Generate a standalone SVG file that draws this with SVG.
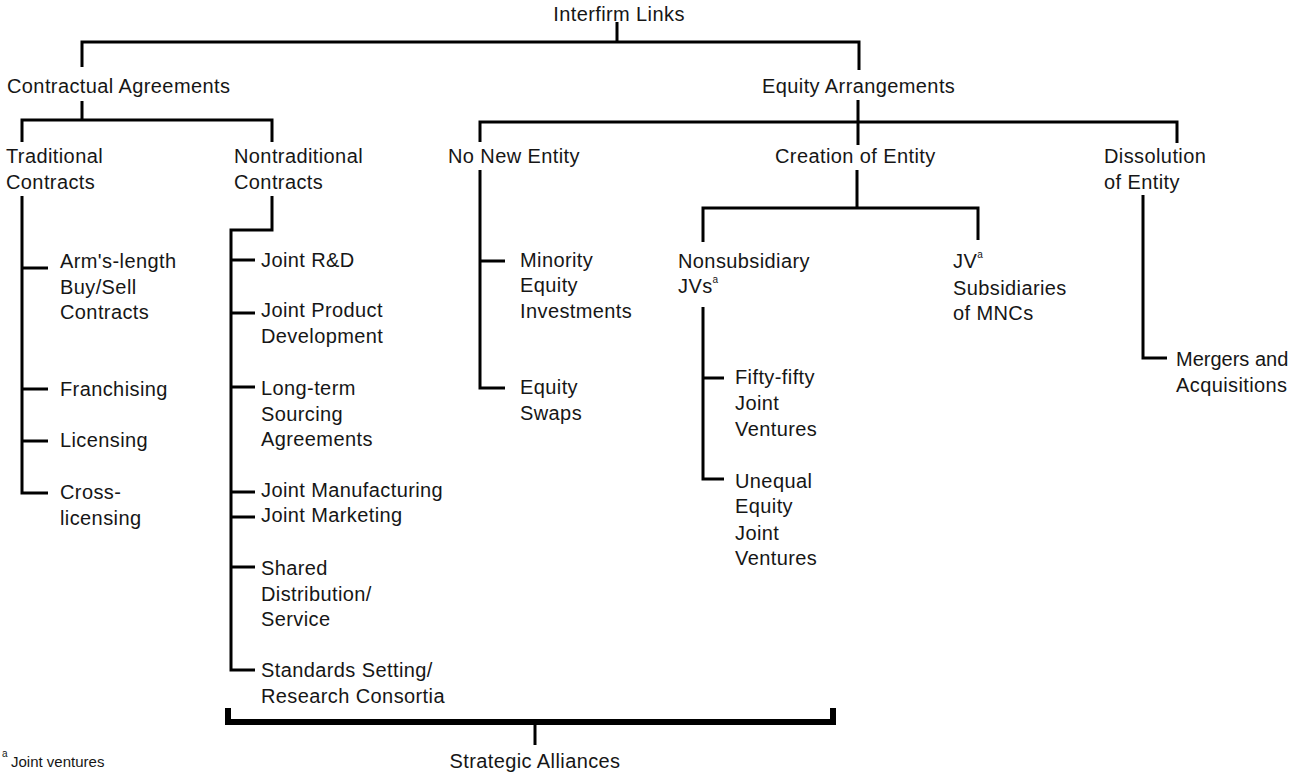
<svg xmlns="http://www.w3.org/2000/svg" width="1291" height="772" viewBox="0 0 1291 772">
<style>
text{font-family:"Liberation Sans",Arial,sans-serif;font-size:20px;fill:#161616;letter-spacing:0.4px}
.sup{font-size:10px;letter-spacing:0}
.fn{font-size:15px;letter-spacing:0}
.tight{letter-spacing:0}
.c{stroke:#000;stroke-width:3;fill:none;stroke-linejoin:miter;stroke-linecap:butt}
.br{stroke:#000;stroke-width:6;fill:none}
</style>
<rect width="1291" height="772" fill="#fff"/>
<g id="connectors">
<path class="c" d="M617 22V42M82 67V42H859V70"/>
<path class="c" d="M82 101V120M22 142V120H272V142"/>
<path class="c" d="M22 196V493H48M22 268H48M22 389H48M22 441H48"/>
<path class="c" d="M272 196V230H231V670H255M231 260H255M231 313H255M231 387H255M231 492H255M231 517H255M231 567H255"/>
<path class="c" d="M858 100V145M480 142V122H1177V143"/>
<path class="c" d="M480 170V388H505M480 261H505"/>
<path class="c" d="M857 170V208M703 242V208H978V240"/>
<path class="c" d="M703 307V479H724M703 378H724"/>
<path class="c" d="M1143 195V358H1167"/>
<path class="br" d="M228 708V722H833V708"/>
<path class="c" d="M535 722V745"/>
</g>
<g id="interfirm"><text x="619" y="21" text-anchor="middle">Interfirm Links</text></g>
<g id="contractual"><text x="7" y="93">Contractual Agreements</text></g>
<g id="equity"><text x="762" y="93">Equity Arrangements</text></g>
<g id="traditional"><text x="6" y="163">Traditional</text><text x="6" y="189">Contracts</text></g>
<g id="nontraditional"><text x="234" y="163">Nontraditional</text><text x="234" y="189">Contracts</text></g>
<g id="nonew"><text x="448" y="163">No New Entity</text></g>
<g id="creation"><text x="775" y="163">Creation of Entity</text></g>
<g id="dissolution"><text x="1104" y="163">Dissolution</text><text x="1104" y="189">of Entity</text></g>
<g id="armslength"><text x="60" y="268">Arm's-length</text><text x="60" y="294">Buy/Sell</text><text x="60" y="319">Contracts</text></g>
<g id="franchising"><text x="60" y="396">Franchising</text></g>
<g id="licensing"><text x="60" y="447">Licensing</text></g>
<g id="crosslicensing"><text x="60" y="499">Cross-</text><text x="60" y="525">licensing</text></g>
<g id="jointrd"><text x="261" y="267">Joint R&amp;D</text></g>
<g id="jointproduct"><text x="261" y="317">Joint Product</text><text x="261" y="343">Development</text></g>
<g id="longterm"><text x="261" y="395">Long-term</text><text x="261" y="421">Sourcing</text><text x="261" y="446">Agreements</text></g>
<g id="jointmanufacturing"><text x="261" y="497">Joint Manufacturing</text></g>
<g id="jointmarketing"><text x="261" y="522">Joint Marketing</text></g>
<g id="shared"><text x="261" y="575">Shared</text><text x="261" y="601">Distribution/</text><text x="261" y="626">Service</text></g>
<g id="standards"><text x="261" y="677">Standards Setting/</text><text x="261" y="703">Research Consortia</text></g>
<g id="minority"><text x="520" y="267">Minority</text><text x="520" y="292">Equity</text><text x="520" y="318">Investments</text></g>
<g id="swaps"><text x="520" y="394">Equity</text><text x="520" y="420">Swaps</text></g>
<g id="nonsubsidiary"><text x="678" y="268">Nonsubsidiary</text><text x="678" y="293">JVs<tspan class="sup" dy="-10">a</tspan></text></g>
<g id="jvsubsidiaries"><text x="953" y="268">JV<tspan class="sup" dy="-10">a</tspan></text><text x="953" y="295">Subsidiaries</text><text x="953" y="320">of MNCs</text></g>
<g id="fiftyfifty"><text x="735" y="384">Fifty-fifty</text><text x="735" y="410">Joint</text><text x="735" y="436">Ventures</text></g>
<g id="unequal"><text x="735" y="488">Unequal</text><text x="735" y="513">Equity</text><text x="735" y="540">Joint</text><text x="735" y="565">Ventures</text></g>
<g id="mergers"><text class="tight" x="1176" y="366">Mergers and</text><text x="1176" y="392">Acquisitions</text></g>
<g id="strategic"><text x="535" y="768" text-anchor="middle">Strategic Alliances</text></g>
<g id="footnote"><text class="sup" x="2" y="757">a</text><text class="fn" x="11" y="767">Joint ventures</text></g>
</svg>
